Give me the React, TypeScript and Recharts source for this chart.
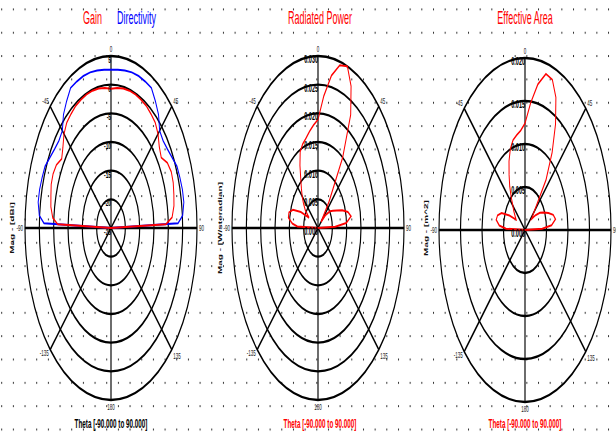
import React from 'react';
import { RadarChart, Radar, PolarGrid, PolarAngleAxis, PolarRadiusAxis } from 'recharts';

// sampling angles, degrees (0 = boresight / top)
const thetaDeg = [-90, -88, -85, -80, -75, -70, -65, -60, -55, -50, -45, -40, -35, -30, -25, -20, -15, -10, -5, 0, 5, 10, 15, 20, 25, 30, 35, 40, 45, 50, 55, 60, 65, 70, 75, 80, 85, 88, 90];

// dBi
const gainDbi = [-25, -6.4, -4.6, -3.7, -3.3, -2.8, -2.7, -3.0, -4.0, -3.1, -1.8, -1.0, -0.7, -0.4, -0.3, -0.2, -0.2, -0.3, -0.5, -0.7, -0.5, -0.3, -0.2, -0.2, -0.3, -0.4, -0.7, -1.0, -1.8, -3.0, -3.6, -2.3, -1.8, -1.9, -2.3, -2.7, -3.6, -5.8, -25];
const directivityDbi = [-25, -1.6, 0.1, 0.8, 0.8, 0.6, 0.4, -0.4, -1.0, -1.3, -1.0, 0.8, 2.0, 3.2, 3.2, 3.2, 3.1, 2.9, 2.7, 2.6, 2.7, 2.9, 3.1, 3.2, 3.2, 3.2, 2.0, 0.8, -1.0, -1.3, -1.0, -0.4, 0.4, 0.6, 0.8, 0.8, 0.1, -1.6, -25];

// W/steradian
const radiatedPower = [0, 0.0072, 0.009, 0.0105, 0.0105, 0.0093, 0.0066, 0.0036, 0.0054, 0.0066, 0.0078, 0.009, 0.0105, 0.0126, 0.0147, 0.0156, 0.0162, 0.0171, 0.018, 0.0189, 0.0231, 0.027, 0.0294, 0.03, 0.0273, 0.0228, 0.015, 0.006, 0.0015, 0.0036, 0.0051, 0.006, 0.0072, 0.009, 0.0108, 0.0117, 0.0099, 0.006, 0];

// m^2
const effectiveArea = [0, 0.0044, 0.006, 0.0068, 0.0066, 0.0058, 0.004, 0.0024, 0.0028, 0.0034, 0.004, 0.005, 0.0062, 0.0074, 0.0088, 0.01, 0.0108, 0.0112, 0.0116, 0.0124, 0.0148, 0.0172, 0.0188, 0.0186, 0.017, 0.0142, 0.011, 0.0076, 0.003, 0.002, 0.003, 0.004, 0.0048, 0.0058, 0.0068, 0.0072, 0.0062, 0.004, 0];

const angleTicks = [-135, -90, -45, 0, 45, 90, 135, 180];
const gainTicks = [-25, -20, -15, -10, -5, 0, 5];
const powerTicks = [0, 0.005, 0.01, 0.015, 0.02, 0.025, 0.03];
const areaTicks = [0, 0.005, 0.01, 0.015, 0.02];
const thetaCaption = 'Theta [-90.000 to 90.000]';

const gainData = thetaDeg.map((t, i) => ({ theta: t, gain: gainDbi[i], dir: directivityDbi[i] }));
const powerData = thetaDeg.map((t, i) => ({ theta: t, power: radiatedPower[i] }));
const areaData = thetaDeg.map((t, i) => ({ theta: t, area: effectiveArea[i] }));

const K = 2; // vertical stretch of the whole sheet
const H = 435 / K;
const R = 86;

function Panel({ left, cy, data, ticks, fmt, labelSize, children }: any) {
  return (
    <div style={{ position: 'absolute', left, top: 0 }}>
      <RadarChart width={208} height={H} cx={104} cy={cy} outerRadius={R} data={data}
        startAngle={270} endAngle={-90} margin={{ top: 0, right: 0, bottom: 0, left: 0 }}>
        <PolarGrid gridType="circle" stroke="#000" strokeOpacity={1} strokeWidth={1.15} />
        <PolarAngleAxis dataKey="theta" type="number" domain={[-180, 180]} ticks={angleTicks} tickCount={9}
          tickLine={false} axisLine={false} tickSize={2}
          tickFormatter={(v: number) => (v === -180 ? '' : String(v))}
          tick={{ fontSize: 4.5, fill: '#222', fontFamily: 'Liberation Sans, Arial' }} />
        <PolarRadiusAxis angle={90} type="number" domain={[ticks[0], ticks[ticks.length - 1]]}
          ticks={ticks} tickCount={ticks.length}
          orientation="left" axisLine={false} tickLine={false} tickFormatter={fmt}
          tick={{ fontSize: labelSize, fill: '#000', fontWeight: 'bold', dy: 3.5, fontFamily: 'Liberation Sans, Arial' }} />
        {children}
      </RadarChart>
    </div>
  );
}

export default function App() {
  const font = 'Liberation Sans, Arial, sans-serif';
  return (
    <div style={{ position: 'absolute', left: 0, top: 0, width: 616, height: 435, overflow: 'hidden', background: '#fff' }}>
      <div style={{ position: 'absolute', left: 0, top: 0, width: 616, height: H, transform: `scale(1, ${K})`, transformOrigin: '0 0' }}>
        <svg width={616} height={H} style={{ position: 'absolute', left: 0, top: 0 }}>
          <defs>
            <pattern id="dots" x={1.2} y={4.2} width={11.67} height={11.67} patternUnits="userSpaceOnUse">
              <rect x={0} y={0} width={1} height={1} fill="#333" />
            </pattern>
          </defs>
          <rect width={616} height={H} fill="url(#dots)" />
        </svg>

        <Panel left={7} cy={114} data={gainData} ticks={gainTicks} labelSize={4.8} fmt={(v: number) => String(v)}>
          <Radar dataKey="dir" stroke="#0000ff" strokeWidth={1} fill="none" fillOpacity={0} dot={false} isAnimationActive={false} />
          <Radar dataKey="gain" stroke="#ff0000" strokeWidth={1} fill="none" fillOpacity={0} dot={false} isAnimationActive={false} />
        </Panel>
        <Panel left={214} cy={114} data={powerData} ticks={powerTicks} labelSize={5.5} fmt={(v: number) => v.toFixed(3)}>
          <Radar dataKey="power" stroke="#ff0000" strokeWidth={1} fill="none" fillOpacity={0} dot={false} isAnimationActive={false} />
        </Panel>
        <Panel left={421} cy={115} data={areaData} ticks={areaTicks} labelSize={5.5} fmt={(v: number) => v.toFixed(3)}>
          <Radar dataKey="area" stroke="#ff0000" strokeWidth={1} fill="none" fillOpacity={0} dot={false} isAnimationActive={false} />
        </Panel>

        <svg width={616} height={H} style={{ position: 'absolute', left: 0, top: 0, pointerEvents: 'none' }} fontFamily={font}>
          <text x={83} y={12} fontSize={9} fill="#ff0000">Gain</text>
          <text x={117} y={12} fontSize={9} fill="#0000ff">Directivity</text>
          <text x={320} y={12} fontSize={9} fill="#ff0000" textAnchor="middle">Radiated Power</text>
          <text x={525} y={12} fontSize={9} fill="#ff0000" textAnchor="middle">Effective Area</text>

          <text x={111} y={214} fontSize={6.3} fontWeight="bold" fill="#000" textAnchor="middle">{thetaCaption}</text>
          <text x={320} y={214} fontSize={6.3} fontWeight="bold" fill="#ff0000" textAnchor="middle">{thetaCaption}</text>
          <text x={525} y={214} fontSize={6.3} fontWeight="bold" fill="#ff0000" textAnchor="middle">{thetaCaption}</text>

          <text x={14} y={114} fontSize={5} fontWeight="bold" fill="#111" textAnchor="middle" transform="rotate(-90 14 114)">Mag - [dBi]</text>
          <text x={222} y={114} fontSize={5} fontWeight="bold" fill="#111" textAnchor="middle" transform="rotate(-90 222 114)">Mag - [W/steradian]</text>
          <text x={428} y={114} fontSize={5} fontWeight="bold" fill="#111" textAnchor="middle" transform="rotate(-90 428 114)">Mag - [m^2]</text>
        </svg>
      </div>
    </div>
  );
}
